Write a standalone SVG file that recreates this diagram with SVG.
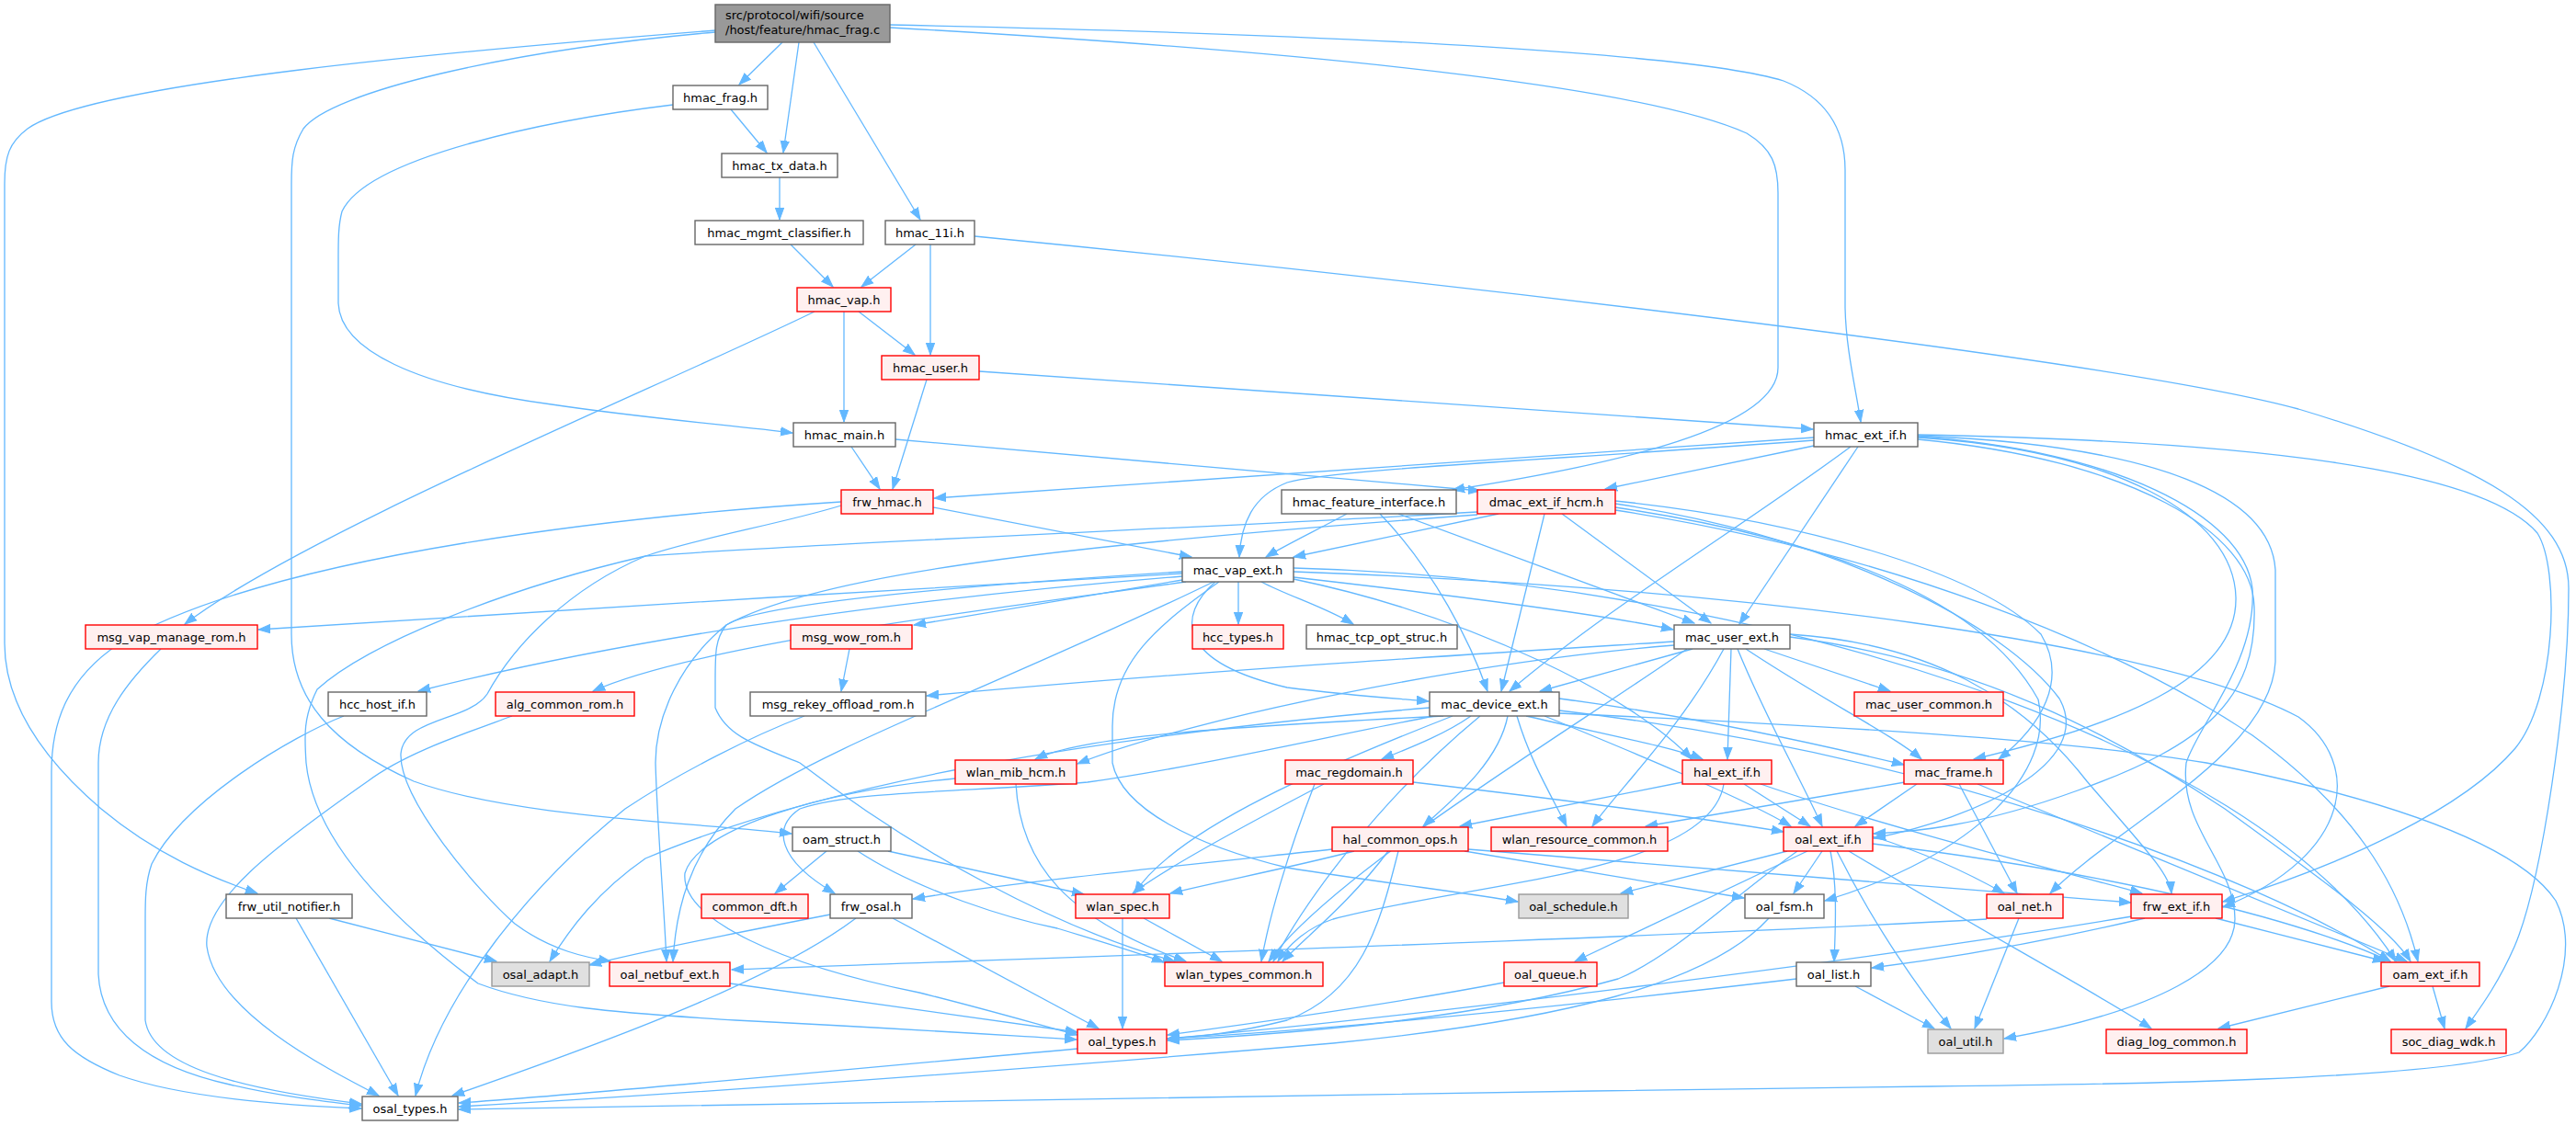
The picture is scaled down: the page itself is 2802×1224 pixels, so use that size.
<svg xmlns="http://www.w3.org/2000/svg" width="2802" height="1224" viewBox="0 0 2802 1224">
<style>
.e{fill:none;stroke:#63b8ff;stroke-width:1.3;marker-end:url(#ah)}
.w{fill:#ffffff;stroke:#666666;stroke-width:1.4}
.r{fill:#fff0f0;stroke:#ff0000;stroke-width:1.4}
.g{fill:#e0e0e0;stroke:#999999;stroke-width:1.4}
.rt{fill:#999999;stroke:#666666;stroke-width:1.4}
text{font-family:"DejaVu Sans","Liberation Sans",sans-serif;font-size:13px;fill:#000000;text-anchor:middle}
text.l{text-anchor:start}
</style>
<defs>
<marker id="ah" markerUnits="userSpaceOnUse" markerWidth="14" markerHeight="12" refX="13" refY="6" orient="auto">
<path d="M0,1.3 L13,6 L0,10.7 z" fill="#63b8ff" stroke="#63b8ff" stroke-width="1"/>
</marker>
</defs>
<rect width="2802" height="1224" fill="#ffffff"/>
<g id="edges">
<path class="e" d="M851,46 L804,92"/>
<path class="e" d="M869,46 L852,166"/>
<path class="e" d="M885,46 L1001,239"/>
<path class="e" d="M968,27 C1500,38 1850,60 1940,88 C1995,110 2007,150 2007,185 L2007,335 C2008,380 2018,420 2024,459"/>
<path class="e" d="M968,30 C1500,60 1800,100 1900,145 C1928,162 1934,180 1934,210 L1934,400 C1934,465 1760,505 1580,533"/>
<path class="e" d="M778,33 C500,55 100,90 30,140 C10,155 5,170 5,200 L5,700 C5,760 40,820 110,880 C170,930 230,955 280,972"/>
<path class="e" d="M778,35 C550,55 360,100 330,140 C318,160 317,175 317,200 L317,690 C317,760 360,810 450,850 C560,890 760,895 861,907"/>
<path class="e" d="M795,119 L834,166"/>
<path class="e" d="M732,114 C600,130 400,170 372,230 C368,245 368,260 368,280 L368,330 C370,380 450,420 600,440 C700,455 800,463 862,471"/>
<path class="e" d="M848,193 L848,239"/>
<path class="e" d="M860,266 L906,312"/>
<path class="e" d="M996,266 L937,312"/>
<path class="e" d="M1012,266 L1012,386"/>
<path class="e" d="M1060,257 C1500,300 2300,390 2500,445 C2700,505 2794,560 2794,640 C2794,760 2765,960 2735,1030 C2715,1075 2695,1100 2682,1119"/>
<path class="e" d="M934,339 L995,386"/>
<path class="e" d="M918,339 L918,459"/>
<path class="e" d="M886,339 C720,420 330,580 201,679"/>
<path class="e" d="M1008,413 L971,532"/>
<path class="e" d="M1065,404 L1972,467"/>
<path class="e" d="M926,486 L957,532"/>
<path class="e" d="M974,478 L1610,534"/>
<path class="e" d="M1973,476 C1600,500 1300,520 1016,542"/>
<path class="e" d="M1973,479 C1700,500 1450,510 1400,525 C1362,540 1350,570 1348,606"/>
<path class="e" d="M1973,485 L1746,532"/>
<path class="e" d="M2013,486 C1900,570 1750,660 1642,752"/>
<path class="e" d="M2021,486 L1892,679"/>
<path class="e" d="M2086,473 C2450,480 2700,510 2760,580 C2785,620 2780,760 2736,814 C2680,880 2550,940 2418,981"/>
<path class="e" d="M2086,474 C2350,485 2470,540 2475,620 L2475,720 C2470,820 2300,900 2230,972"/>
<path class="e" d="M2086,475 C2300,490 2440,560 2450,640 C2455,720 2390,790 2378,830 C2370,900 2431,940 2431,1000 C2431,1050 2350,1100 2180,1130"/>
<path class="e" d="M2086,476 C2300,490 2430,560 2432,650 C2434,740 2300,790 2147,826"/>
<path class="e" d="M2086,478 C2320,500 2450,580 2452,660 C2455,760 2400,810 2260,860 C2150,900 2080,905 2038,907"/>
<path class="e" d="M1015,552 L1296,606"/>
<path class="e" d="M915,546 C700,560 300,600 130,700 C70,740 56,790 56,840 L56,1090 C56,1130 80,1150 130,1170 C200,1195 320,1203 393,1206"/>
<path class="e" d="M915,550 C850,570 760,585 702,605 C620,640 560,700 530,755 C510,785 440,780 436,820 C434,870 520,970 560,1005 C600,1035 640,1042 664,1046"/>
<path class="e" d="M1607,557 C1300,575 900,590 702,605 C550,640 400,700 345,750 C330,780 331,800 333,830 C340,900 400,980 520,1070 C600,1100 700,1103 800,1110 C1000,1120 1100,1127 1171,1131"/>
<path class="e" d="M1607,560 C1200,590 900,620 790,680 C740,720 713,780 713,830 C715,900 722,980 725,1046"/>
<path class="e" d="M1465,559 C1430,578 1400,592 1377,606"/>
<path class="e" d="M1521,559 L1843,678"/>
<path class="e" d="M1501,559 C1560,620 1600,700 1618,752"/>
<path class="e" d="M1630,559 L1407,606"/>
<path class="e" d="M1699,559 L1861,678"/>
<path class="e" d="M1680,559 L1633,752"/>
<path class="e" d="M1757,545 C1950,565 2150,620 2220,690 C2250,740 2220,790 2174,826"/>
<path class="e" d="M1757,548 C2000,585 2180,680 2240,760 C2280,830 2150,890 2038,912"/>
<path class="e" d="M1757,552 C2012,590 2162,661 2217,761 C2235,840 2150,930 1985,980"/>
<path class="e" d="M1757,555 C2050,600 2300,700 2450,800 C2560,880 2610,960 2630,1046"/>
<path class="e" d="M1286,624 C1000,640 500,670 281,685"/>
<path class="e" d="M1286,631 L994,680"/>
<path class="e" d="M1347,633 L1347,679"/>
<path class="e" d="M1372,633 C1400,648 1440,660 1472,679"/>
<path class="e" d="M1407,628 C1600,650 1750,670 1820,685"/>
<path class="e" d="M1286,627 C1000,650 700,690 455,752"/>
<path class="e" d="M1290,633 C1100,660 760,700 645,752"/>
<path class="e" d="M1322,633 C1280,670 1280,720 1400,748 C1470,757 1520,760 1554,763"/>
<path class="e" d="M1407,630 C1600,670 1780,760 1840,826"/>
<path class="e" d="M1326,633 C1260,680 1210,720 1210,790 L1210,830 C1220,880 1300,920 1400,944 C1500,960 1600,972 1651,981"/>
<path class="e" d="M1286,622 C1000,640 820,660 790,680 C778,695 778,710 778,740 L778,770 C790,800 820,810 870,830 C1000,930 1150,1010 1278,1046"/>
<path class="e" d="M1407,622 C1900,640 2350,700 2500,780 C2570,830 2560,930 2418,987"/>
<path class="e" d="M1407,618 C1900,630 2450,800 2606,1046"/>
<path class="e" d="M1320,633 C1100,740 900,810 800,880 C750,930 735,990 732,1046"/>
<path class="e" d="M924,706 L915,752"/>
<path class="e" d="M175,706 C140,740 107,780 107,830 L107,1060 C110,1120 160,1160 250,1180 C300,1192 350,1198 393,1203"/>
<path class="e" d="M374,779 C320,800 200,870 165,940 C158,960 158,980 158,1000 L158,1110 C165,1160 260,1185 393,1201"/>
<path class="e" d="M557,779 C500,800 440,820 400,850 C300,920 220,980 225,1030 C235,1100 350,1160 412,1192"/>
<path class="e" d="M875,779 C820,800 740,840 680,880 C580,960 480,1080 452,1192"/>
<path class="e" d="M322,999 L433,1192"/>
<path class="e" d="M358,999 L540,1046"/>
<path class="e" d="M931,999 C850,1060 700,1120 492,1192"/>
<path class="e" d="M903,995 C800,1015 700,1035 641,1050"/>
<path class="e" d="M971,999 L1195,1119"/>
<path class="e" d="M899,926 L843,972"/>
<path class="e" d="M966,926 L1179,973"/>
<path class="e" d="M933,926 C1000,970 1100,1000 1150,1010 C1200,1025 1240,1037 1266,1047"/>
<path class="e" d="M1221,999 L1221,1119"/>
<path class="e" d="M1244,999 L1329,1046"/>
<path class="e" d="M1105,853 C1110,940 1160,1000 1290,1046"/>
<path class="e" d="M1039,847 C900,860 760,900 745,950 C740,1000 850,1050 1000,1080 C1080,1100 1130,1115 1172,1126"/>
<path class="e" d="M794,1070 L1172,1123"/>
<path class="e" d="M1944,926 L1763,972"/>
<path class="e" d="M1982,926 L1951,972"/>
<path class="e" d="M1966,926 L1713,1046"/>
<path class="e" d="M1991,926 C1998,960 1997,1000 1995,1046"/>
<path class="e" d="M1955,926 C1880,980 1820,1040 1760,1065 C1600,1110 1400,1125 1270,1132"/>
<path class="e" d="M1998,926 C2040,1010 2090,1080 2122,1119"/>
<path class="e" d="M2011,926 C2150,1010 2280,1080 2340,1119"/>
<path class="e" d="M2037,910 C2100,930 2150,955 2180,972"/>
<path class="e" d="M2037,918 C2300,950 2500,1000 2600,1046"/>
<path class="e" d="M1924,999 C1860,1070 1700,1110 1450,1135 C1100,1165 700,1193 499,1204"/>
<path class="e" d="M2018,1073 L2104,1119"/>
<path class="e" d="M1954,1065 C1700,1095 1450,1120 1270,1130"/>
<path class="e" d="M1636,1069 C1500,1095 1350,1115 1270,1126"/>
<path class="e" d="M2196,999 L2148,1119"/>
<path class="e" d="M2161,1000 C1800,1020 1200,1040 796,1055"/>
<path class="e" d="M2410,999 L2594,1046"/>
<path class="e" d="M2333,999 C2200,1030 2100,1045 2036,1053"/>
<path class="e" d="M2319,997 C2000,1050 1500,1110 1270,1130"/>
<path class="e" d="M2599,1073 L2413,1119"/>
<path class="e" d="M2646,1073 L2659,1119"/>
<path class="e" d="M2085,853 L2018,899"/>
<path class="e" d="M2131,853 L2194,972"/>
<path class="e" d="M2151,853 L2618,1046"/>
<path class="e" d="M2072,851 L1790,899"/>
<path class="e" d="M1830,851 L1588,899"/>
<path class="e" d="M1897,853 L1969,899"/>
<path class="e" d="M1915,853 C2050,900 2250,950 2330,972"/>
<path class="e" d="M1875,853 C1860,950 1600,960 1450,1000 C1420,1010 1400,1030 1390,1046"/>
<path class="e" d="M1449,924 C1300,940 1100,960 993,978"/>
<path class="e" d="M1473,926 C1400,945 1320,960 1273,972"/>
<path class="e" d="M1593,926 L1897,977"/>
<path class="e" d="M1510,926 C1470,980 1420,1020 1395,1046"/>
<path class="e" d="M1521,926 C1500,1010 1480,1080 1400,1110 C1340,1125 1300,1128 1270,1130"/>
<path class="e" d="M1597,924 C1800,940 2100,965 2318,982"/>
<path class="e" d="M1537,851 C1700,870 1850,890 1940,905"/>
<path class="e" d="M1440,853 C1350,900 1260,950 1232,972"/>
<path class="e" d="M1430,853 C1400,930 1380,1000 1372,1046"/>
<path class="e" d="M1841,706 L1675,752"/>
<path class="e" d="M1919,706 L2056,752"/>
<path class="e" d="M1821,698 C1600,712 1300,730 1008,757"/>
<path class="e" d="M1821,702 C1600,720 1300,780 1172,831"/>
<path class="e" d="M1883,706 L1879,826"/>
<path class="e" d="M1890,706 C1920,780 1960,850 1982,899"/>
<path class="e" d="M1899,706 C1980,760 2060,800 2090,826"/>
<path class="e" d="M1875,706 C1830,790 1760,860 1732,899"/>
<path class="e" d="M1835,706 C1700,800 1450,950 1380,1046"/>
<path class="e" d="M1947,690 C2100,700 2200,760 2270,850 C2330,920 2360,950 2362,972"/>
<path class="e" d="M1947,693 C2150,720 2300,800 2420,880 C2530,960 2600,1010 2622,1046"/>
<path class="e" d="M1570,779 C1350,790 1180,800 1126,826"/>
<path class="e" d="M1600,779 C1570,800 1530,815 1503,826"/>
<path class="e" d="M1660,779 C1750,800 1815,812 1852,826"/>
<path class="e" d="M1696,760 C1850,780 2000,815 2071,832"/>
<path class="e" d="M1640,779 C1630,830 1580,870 1548,899"/>
<path class="e" d="M1650,779 C1665,830 1690,870 1704,899"/>
<path class="e" d="M1680,779 C1780,820 1900,870 1948,899"/>
<path class="e" d="M1580,779 C1450,830 1280,900 1234,972"/>
<path class="e" d="M1610,779 C1500,870 1420,980 1385,1046"/>
<path class="e" d="M1696,773 C2100,820 2450,950 2600,1046"/>
<path class="e" d="M1696,776 C2000,790 2250,805 2400,830 C2600,870 2740,920 2780,980 C2810,1040 2770,1120 2740,1145 C2650,1175 2300,1180 2100,1182 C1500,1190 800,1200 499,1207"/>
<path class="e" d="M1555,770 C1200,800 900,850 702,934 C650,970 620,1010 598,1046"/>
<path class="e" d="M1560,779 C1450,800 1300,835 1183,851 C1050,862 930,860 870,880 C840,900 845,935 908,972"/>
<path class="e" d="M1172,1141 C900,1165 650,1190 499,1200"/>
</g>
<g id="n_root"><rect class="rt" x="778" y="5" width="190" height="41"/><text class="l" x="789" y="21">src/protocol/wifi/source</text><text class="l" x="789" y="37">/host/feature/hmac_frag.c</text></g>
<g id="n_hmac_frag"><rect class="w" x="732" y="93" width="103" height="26"/><text x="783.5" y="110.5">hmac_frag.h</text></g>
<g id="n_hmac_tx_data"><rect class="w" x="785" y="167" width="126" height="26"/><text x="848" y="184.5">hmac_tx_data.h</text></g>
<g id="n_hmac_mgmt_classifier"><rect class="w" x="756" y="240" width="183" height="26"/><text x="847.5" y="257.5">hmac_mgmt_classifier.h</text></g>
<g id="n_hmac_11i"><rect class="w" x="963" y="240" width="97" height="26"/><text x="1011.5" y="257.5">hmac_11i.h</text></g>
<g id="n_hmac_vap"><rect class="r" x="867" y="313" width="102" height="26"/><text x="918" y="330.5">hmac_vap.h</text></g>
<g id="n_hmac_user"><rect class="r" x="959" y="387" width="106" height="26"/><text x="1012" y="404.5">hmac_user.h</text></g>
<g id="n_hmac_main"><rect class="w" x="863" y="460" width="111" height="26"/><text x="918.5" y="477.5">hmac_main.h</text></g>
<g id="n_hmac_ext_if"><rect class="w" x="1973" y="460" width="113" height="26"/><text x="2029.5" y="477.5">hmac_ext_if.h</text></g>
<g id="n_frw_hmac"><rect class="r" x="915" y="533" width="100" height="26"/><text x="965" y="550.5">frw_hmac.h</text></g>
<g id="n_hmac_feature_interface"><rect class="w" x="1394" y="533" width="190" height="26"/><text x="1489" y="550.5">hmac_feature_interface.h</text></g>
<g id="n_dmac_ext_if_hcm"><rect class="r" x="1607" y="533" width="150" height="26"/><text x="1682" y="550.5">dmac_ext_if_hcm.h</text></g>
<g id="n_mac_vap_ext"><rect class="w" x="1286" y="607" width="121" height="26"/><text x="1346.5" y="624.5">mac_vap_ext.h</text></g>
<g id="n_msg_vap_manage_rom"><rect class="r" x="93" y="680" width="187" height="26"/><text x="186.5" y="697.5">msg_vap_manage_rom.h</text></g>
<g id="n_msg_wow_rom"><rect class="r" x="860" y="680" width="132" height="26"/><text x="926" y="697.5">msg_wow_rom.h</text></g>
<g id="n_hcc_types"><rect class="r" x="1297" y="680" width="99" height="26"/><text x="1346.5" y="697.5">hcc_types.h</text></g>
<g id="n_hmac_tcp_opt_struc"><rect class="w" x="1421" y="680" width="164" height="26"/><text x="1503" y="697.5">hmac_tcp_opt_struc.h</text></g>
<g id="n_mac_user_ext"><rect class="w" x="1821" y="680" width="126" height="26"/><text x="1884" y="697.5">mac_user_ext.h</text></g>
<g id="n_hcc_host_if"><rect class="w" x="357" y="753" width="107" height="26"/><text x="410.5" y="770.5">hcc_host_if.h</text></g>
<g id="n_alg_common_rom"><rect class="r" x="539" y="753" width="151" height="26"/><text x="614.5" y="770.5">alg_common_rom.h</text></g>
<g id="n_msg_rekey_offload_rom"><rect class="w" x="816" y="753" width="191" height="26"/><text x="911.5" y="770.5">msg_rekey_offload_rom.h</text></g>
<g id="n_mac_device_ext"><rect class="w" x="1555" y="753" width="141" height="26"/><text x="1625.5" y="770.5">mac_device_ext.h</text></g>
<g id="n_mac_user_common"><rect class="r" x="2017" y="753" width="162" height="26"/><text x="2098" y="770.5">mac_user_common.h</text></g>
<g id="n_wlan_mib_hcm"><rect class="r" x="1039" y="827" width="132" height="26"/><text x="1105" y="844.5">wlan_mib_hcm.h</text></g>
<g id="n_mac_regdomain"><rect class="r" x="1398" y="827" width="139" height="26"/><text x="1467.5" y="844.5">mac_regdomain.h</text></g>
<g id="n_hal_ext_if"><rect class="r" x="1830" y="827" width="97" height="26"/><text x="1878.5" y="844.5">hal_ext_if.h</text></g>
<g id="n_mac_frame"><rect class="r" x="2071" y="827" width="108" height="26"/><text x="2125" y="844.5">mac_frame.h</text></g>
<g id="n_oam_struct"><rect class="w" x="862" y="900" width="107" height="26"/><text x="915.5" y="917.5">oam_struct.h</text></g>
<g id="n_hal_common_ops"><rect class="r" x="1449" y="900" width="148" height="26"/><text x="1523" y="917.5">hal_common_ops.h</text></g>
<g id="n_wlan_resource_common"><rect class="r" x="1622" y="900" width="192" height="26"/><text x="1718" y="917.5">wlan_resource_common.h</text></g>
<g id="n_oal_ext_if"><rect class="r" x="1940" y="900" width="97" height="26"/><text x="1988.5" y="917.5">oal_ext_if.h</text></g>
<g id="n_frw_util_notifier"><rect class="w" x="246" y="973" width="137" height="26"/><text x="314.5" y="990.5">frw_util_notifier.h</text></g>
<g id="n_common_dft"><rect class="r" x="763" y="973" width="116" height="26"/><text x="821" y="990.5">common_dft.h</text></g>
<g id="n_frw_osal"><rect class="w" x="903" y="973" width="89" height="26"/><text x="947.5" y="990.5">frw_osal.h</text></g>
<g id="n_wlan_spec"><rect class="r" x="1170" y="973" width="102" height="26"/><text x="1221" y="990.5">wlan_spec.h</text></g>
<g id="n_oal_schedule"><rect class="g" x="1652" y="973" width="119" height="26"/><text x="1711.5" y="990.5">oal_schedule.h</text></g>
<g id="n_oal_fsm"><rect class="w" x="1898" y="973" width="86" height="26"/><text x="1941" y="990.5">oal_fsm.h</text></g>
<g id="n_oal_net"><rect class="r" x="2161" y="973" width="83" height="26"/><text x="2202.5" y="990.5">oal_net.h</text></g>
<g id="n_frw_ext_if"><rect class="r" x="2318" y="973" width="99" height="26"/><text x="2367.5" y="990.5">frw_ext_if.h</text></g>
<g id="n_osal_adapt"><rect class="g" x="535" y="1047" width="106" height="26"/><text x="588" y="1064.5">osal_adapt.h</text></g>
<g id="n_oal_netbuf_ext"><rect class="r" x="663" y="1047" width="131" height="26"/><text x="728.5" y="1064.5">oal_netbuf_ext.h</text></g>
<g id="n_wlan_types_common"><rect class="r" x="1267" y="1047" width="172" height="26"/><text x="1353" y="1064.5">wlan_types_common.h</text></g>
<g id="n_oal_queue"><rect class="r" x="1636" y="1047" width="101" height="26"/><text x="1686.5" y="1064.5">oal_queue.h</text></g>
<g id="n_oal_list"><rect class="w" x="1954" y="1047" width="81" height="26"/><text x="1994.5" y="1064.5">oal_list.h</text></g>
<g id="n_oam_ext_if"><rect class="r" x="2590" y="1047" width="107" height="26"/><text x="2643.5" y="1064.5">oam_ext_if.h</text></g>
<g id="n_oal_types"><rect class="r" x="1172" y="1120" width="97" height="26"/><text x="1220.5" y="1137.5">oal_types.h</text></g>
<g id="n_oal_util"><rect class="g" x="2097" y="1120" width="82" height="26"/><text x="2138" y="1137.5">oal_util.h</text></g>
<g id="n_diag_log_common"><rect class="r" x="2291" y="1120" width="153" height="26"/><text x="2367.5" y="1137.5">diag_log_common.h</text></g>
<g id="n_soc_diag_wdk"><rect class="r" x="2601" y="1120" width="125" height="26"/><text x="2663.5" y="1137.5">soc_diag_wdk.h</text></g>
<g id="n_osal_types"><rect class="w" x="394" y="1193" width="104" height="26"/><text x="446" y="1210.5">osal_types.h</text></g>
</svg>
